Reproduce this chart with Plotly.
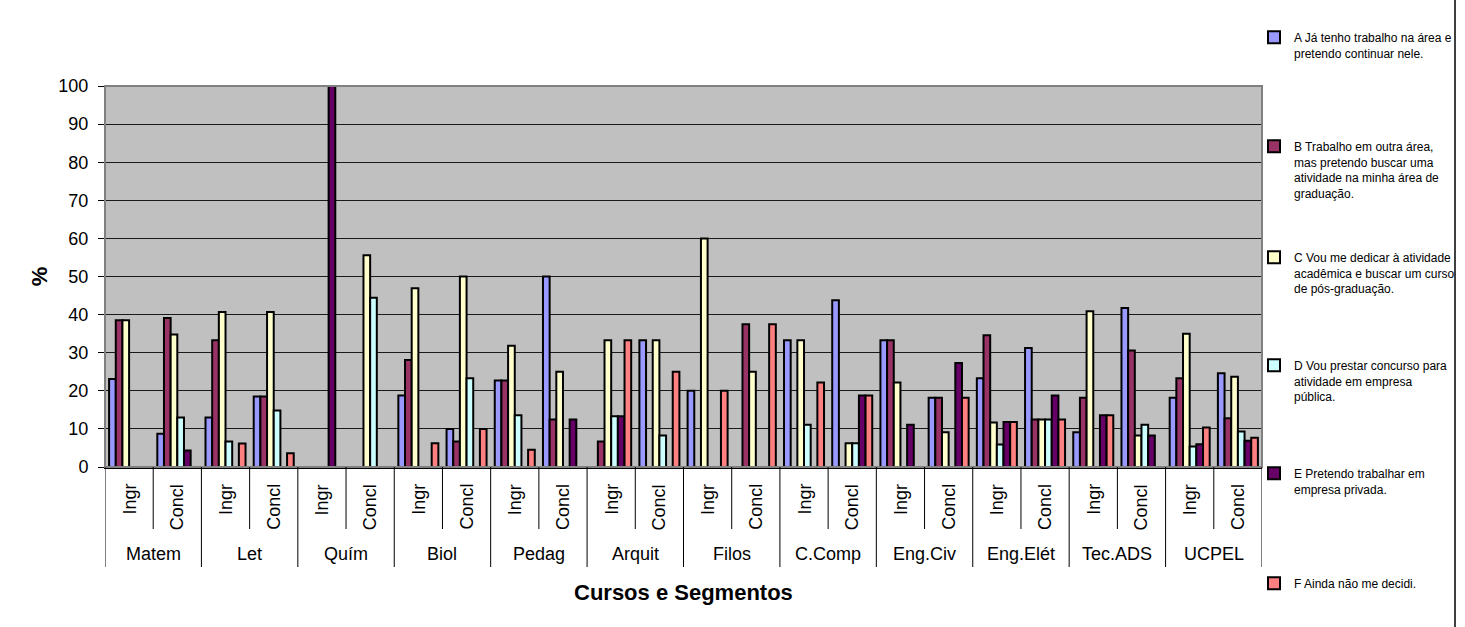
import plotly.graph_objects as go

# ---------------- data ----------------
courses = ["Matem", "Let", "Quím", "Biol", "Pedag", "Arquit", "Filos",
           "C.Comp", "Eng.Civ", "Eng.Elét", "Tec.ADS", "UCPEL"]
segments = ["Ingr", "Concl"]
categories = [f"{c} {s}" for c in courses for s in segments]

series_names = [
    "A Já tenho trabalho na área e<br>pretendo continuar nele.",
    "B Trabalho em outra área,<br>mas pretendo buscar uma<br>atividade na minha área de<br>graduação.",
    "C Vou me dedicar à atividade<br>acadêmica e buscar um curso<br>de pós-graduação.",
    "D Vou prestar concurso para<br>atividade em empresa<br>pública.",
    "E Pretendo trabalhar em<br>empresa privada.",
    "F Ainda não me decidi.",
]

serie_A = [23.1, 8.7, 13.0, 18.5, 0, 0, 18.75, 10.0, 22.7, 50.0, 0, 33.3,
           20.0, 0, 33.3, 43.75, 33.3, 18.2, 23.3, 31.25, 9.1, 41.7, 18.2, 24.6]
serie_B = [38.5, 39.1, 33.3, 18.5, 0, 0, 28.1, 6.7, 22.7, 12.5, 6.7, 0,
           0, 37.5, 0, 0, 33.3, 18.2, 34.6, 12.5, 18.2, 30.6, 23.3, 12.8]
serie_C = [38.5, 34.8, 40.7, 40.7, 0, 55.6, 46.9, 50.0, 31.8, 25.0, 33.3, 33.3,
           60.0, 25.0, 33.3, 6.25, 22.2, 9.1, 11.7, 12.5, 40.9, 8.3, 35.0, 23.7]
serie_D = [0, 13.0, 6.7, 14.8, 0, 44.4, 0, 23.3, 13.6, 0, 13.3, 8.3,
           0, 0, 11.1, 6.25, 0, 0, 5.9, 12.5, 0, 11.1, 5.4, 9.3]
serie_E = [0, 4.3, 0, 0, 100, 0, 0, 0, 0, 12.5, 13.3, 0,
           0, 0, 0, 18.75, 11.1, 27.3, 11.8, 18.75, 13.6, 8.3, 6.0, 6.9]
serie_F = [0, 0, 6.2, 3.6, 0, 0, 6.25, 10.0, 4.5, 0, 33.3, 25.0,
           20.0, 37.5, 22.2, 18.75, 0, 18.2, 11.8, 12.5, 13.6, 0, 10.4, 7.7]

series_values = [serie_A, serie_B, serie_C, serie_D, serie_E, serie_F]
colors = ["#9999FF", "#993366", "#FFFFCC", "#CCFFFF", "#660066", "#FF8080"]

y_ticks = list(range(0, 101, 10))

FONT = "Liberation Sans, Arial, sans-serif"

# ---------------- layout geometry ----------------
W, H = 1465, 627
L, R, T, B = 105, 203, 86, 160
plot_h = H - T - B


def py(pix):  # pixel row -> paper y
    return (H - B - pix) / plot_h


def px(pix):  # pixel column -> paper x
    return (pix - L) / (W - L - R)


fig = go.Figure()

legend_tops = [23, 132, 243, 351, 459, 569]
legend_keys = ["legend", "legend2", "legend3", "legend4", "legend5", "legend6"]

for name, vals, col, lk in zip(series_names, series_values, colors, legend_keys):
    fig.add_trace(go.Bar(
        x=categories, y=vals, name=name, showlegend=True,
        marker=dict(color=col, line=dict(color="black", width=2)),
        legend=lk,
    ))

layout_legends = {}
for lk, top in zip(legend_keys, legend_tops):
    layout_legends[lk] = dict(
        x=px(1254), xanchor="left", y=py(top), yanchor="top",
        bgcolor="rgba(0,0,0,0)", valign="top", visible=True,
        font=dict(family=FONT, size=12, color="black"),
        itemclick=False, itemdoubleclick=False,
    )

shapes = []
annotations = []

# plot-area border
shapes.append(dict(type="rect", xref="paper", yref="paper", x0=0, x1=1, y0=0, y1=1,
                   line=dict(color="#808080", width=2), layer="above"))

# category dividers below the axis
n = len(categories)
for i in range(n + 1):
    outer = (i % 2 == 0)
    shapes.append(dict(type="line", xref="x", yref="paper",
                       x0=i - 0.5, x1=i - 0.5, y0=0,
                       y1=py(567) if outer else py(529),
                       line=dict(color="black", width=1)))

# inner labels (rotated)
for i, cat in enumerate(categories):
    annotations.append(dict(x=cat, xref="x", y=py(482), yref="paper",
                            text=segments[i % 2], showarrow=False, textangle=-90,
                            xanchor="center", yanchor="top",
                            font=dict(family=FONT, size=18, color="black")))

# outer labels
for k, c in enumerate(courses):
    annotations.append(dict(x=2 * k + 0.5, xref="x", y=py(554), yref="paper",
                            text=c, showarrow=False, xanchor="center", yanchor="middle",
                            font=dict(family=FONT, size=18, color="black")))

# x axis title
annotations.append(dict(x=0.5, xref="paper", y=py(592), yref="paper",
                        text="<b>Cursos e Segmentos</b>", showarrow=False,
                        xanchor="center", yanchor="middle",
                        font=dict(family=FONT, size=22, color="black")))

# outer chart border on the right
shapes.append(dict(type="line", xref="paper", yref="paper",
                   x0=px(1455), x1=px(1455), y0=py(0), y1=py(H),
                   line=dict(color="black", width=1.5)))

fig.update_layout(
    width=W, height=H, showlegend=True,
    margin=dict(l=L, r=R, t=T, b=B, autoexpand=False),
    paper_bgcolor="white", plot_bgcolor="#C0C0C0",
    barmode="group", bargap=0.17, bargroupgap=0,
    font=dict(family=FONT, color="black"),
    shapes=shapes, annotations=annotations,
    **layout_legends,
)

fig.update_xaxes(type="category", showticklabels=False, ticks="",
                 showline=True, linecolor="black", linewidth=1.5,
                 showgrid=False, range=[-0.5, n - 0.5])
fig.update_yaxes(range=[0, 100], tickvals=y_ticks, ticks="outside", ticklen=6,
                 tickcolor="black", showline=True, linecolor="black", linewidth=1,
                 showgrid=True, gridcolor="#1a1a1a", gridwidth=1,
                 tickfont=dict(family=FONT, size=18, color="black"),
                 ticklabelstandoff=6, zeroline=False,
                 title=dict(text="<b>%</b>", standoff=4,
                            font=dict(family=FONT, size=22, color="black")))

fig.write_html("out.html",
               config={"displayModeBar": False},
               post_script="document.body.style.margin='0px';")
